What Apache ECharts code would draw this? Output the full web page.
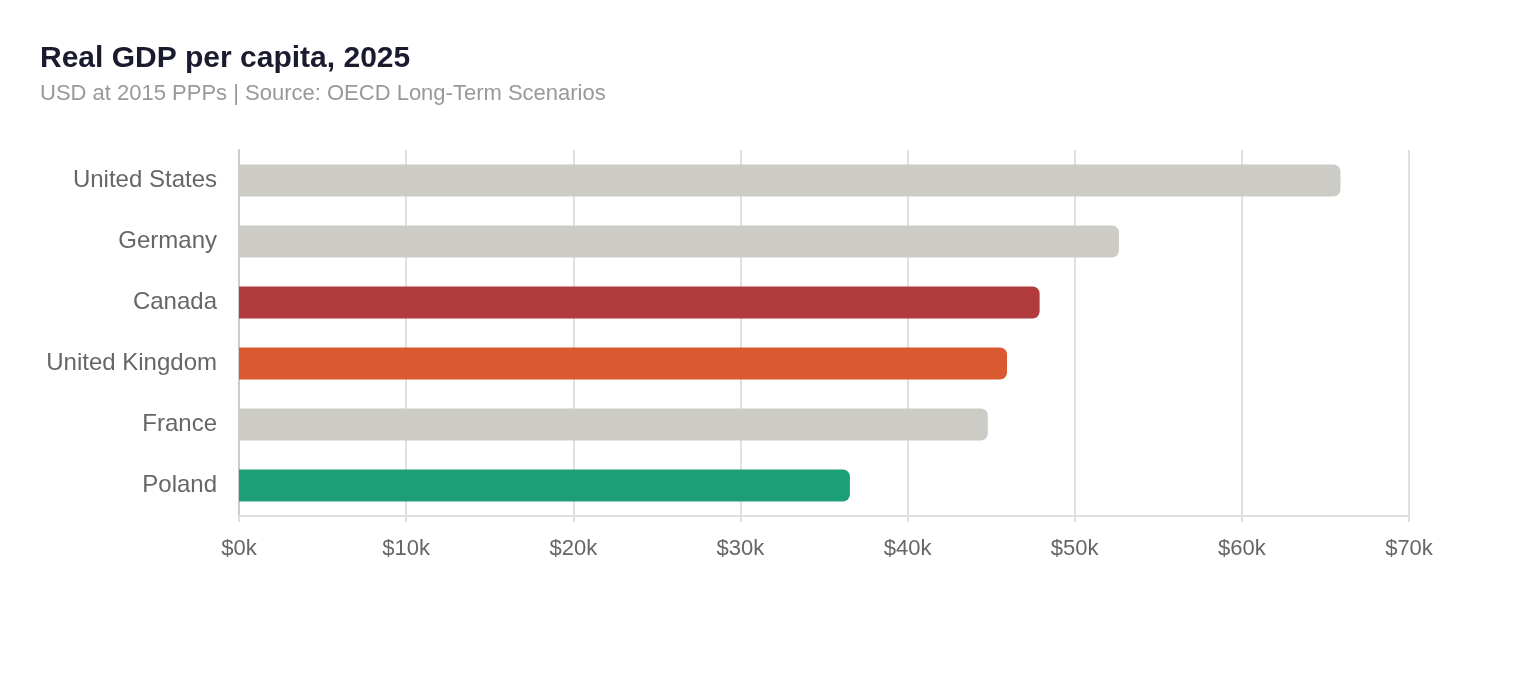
<!DOCTYPE html>
<html>
<head>
<meta charset="utf-8">
<script src="https://cdn.jsdelivr.net/npm/echarts@6/dist/echarts.min.js"></script>
<style>
html,body{margin:0;padding:0;background:#fff;}
#chart{width:1520px;height:680px;}
</style>
</head>
<body>
<div id="chart"></div>
<script>
const categories = ["United States", "Germany", "Canada", "United Kingdom", "France", "Poland"];
const values = [65.9, 52.65, 47.9, 45.95, 44.8, 36.55];
const barColors = ["#cccbc6", "#cccbc6", "#b03a3c", "#d95a30", "#cccbc6", "#1e9e77"];
const tickLabels = ["$0k", "$10k", "$20k", "$30k", "$40k", "$50k", "$60k", "$70k"];

const chart = echarts.init(document.getElementById('chart'), null, {renderer: 'canvas'});
const font = '"Liberation Sans", Arial, sans-serif';
chart.setOption({
  animation: false,
  title: {
    text: 'Real GDP per capita, 2025',
    subtext: 'USD at 2015 PPPs | Source: OECD Long-Term Scenarios',
    left: 35, top: 39,
    itemGap: 9,
    textStyle: {fontFamily: font, fontSize: 30, fontWeight: 'bold', color: '#1a1b2e'},
    subtextStyle: {fontFamily: font, fontSize: 22, color: '#999999'}
  },
  grid: {left: 239, right: 111, top: 150, bottom: 164, containLabel: false},
  xAxis: {
    type: 'value', min: 0, max: 70, interval: 10,
    axisLine: {show: true, lineStyle: {color: '#e0e0e0', width: 2}},
    axisTick: {show: true, length: 6, lineStyle: {color: '#e0e0e0', width: 2}},
    splitLine: {show: true, lineStyle: {color: '#e3e0dc', width: 2}},
    axisLabel: {
      fontFamily: font, fontSize: 22, color: '#666666', margin: 22,
      formatter: function (v) { return tickLabels[Math.round(v / 10)]; }
    }
  },
  yAxis: {
    type: 'category', data: categories, inverse: true,
    axisLine: {show: true, lineStyle: {color: '#cccccc', width: 2}},
    axisTick: {show: false},
    axisLabel: {fontFamily: font, fontSize: 24, color: '#666666', margin: 22}
  },
  series: [{
    type: 'bar',
    data: values.map((v, i) => ({value: v, itemStyle: {color: barColors[i]}})),
    barWidth: 32,
    itemStyle: {borderRadius: [0, 7, 7, 0]}
  }]
});
</script>
</body>
</html>
